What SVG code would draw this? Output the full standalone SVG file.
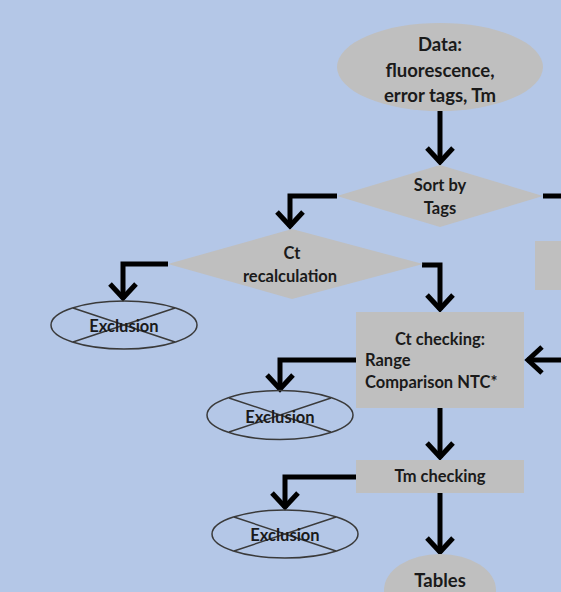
<svg xmlns="http://www.w3.org/2000/svg" width="561" height="592" viewBox="0 0 561 592">
<style>
.bg{fill:#b4c7e7}
.shape{fill:#bfbfbf;stroke:none}
.excl{fill:none;stroke:#3a3a3a;stroke-width:1.5}
.t{font-family:Lato,"Open Sans","Liberation Sans",sans-serif;font-weight:bold;fill:#1a1a1a;text-anchor:middle;font-size:16.5px}
.big{font-size:18.5px}
.tl{text-anchor:start}
.conn{fill:none;stroke:#000;stroke-width:5;stroke-linejoin:miter;stroke-linecap:butt}
</style>
<defs>
<marker id="chev" markerUnits="userSpaceOnUse" viewBox="-20 -20 40 40" markerWidth="40" markerHeight="40" refX="0" refY="0" orient="auto" overflow="visible">
<path d="M-15,-13 L-1,0 L-15,13" fill="none" stroke="#000" stroke-width="5" stroke-linejoin="miter"/>
</marker>
</defs>
<rect class="bg" x="0" y="0" width="561" height="592"/>

<g id="connectors">
<path class="conn" d="M440,111 L440,163" marker-end="url(#chev)"/>
<path class="conn" d="M543,196 L561,196"/>
<path class="conn" d="M337,196 L290,196 L290,227" marker-end="url(#chev)"/>
<path class="conn" d="M168,264 L123,264 L123,299" marker-end="url(#chev)"/>
<path class="conn" d="M422,265 L440,265 L440,310" marker-end="url(#chev)"/>
<path class="conn" d="M561,360 L527,360" marker-end="url(#chev)"/>
<path class="conn" d="M356,360 L280,360 L280,390" marker-end="url(#chev)"/>
<path class="conn" d="M440,408 L440,458" marker-end="url(#chev)"/>
<path class="conn" d="M356,477 L285,477 L285,508" marker-end="url(#chev)"/>
<path class="conn" d="M440,493 L440,553" marker-end="url(#chev)"/>
</g>

<g id="data">
<ellipse class="shape" cx="440" cy="67" rx="103" ry="44"/>
<text class="t big" x="440" y="51">Data:</text>
<text class="t big" x="440" y="77">fluorescence,</text>
<text class="t big" x="440" y="102">error tags, Tm</text>
</g>

<g id="sort">
<polygon class="shape" points="440,165 543,196 440,227 337,196"/>
<text class="t" x="440" y="191">Sort by</text>
<text class="t" x="440" y="214">Tags</text>
</g>

<g id="right-box">
<rect class="shape" x="535" y="241" width="30" height="49"/>
</g>

<g id="ct-recalc">
<polygon class="shape" points="292,229 423,264 292,299 168,264"/>
<text class="t" x="292" y="259">Ct</text>
<text class="t" x="290" y="282">recalculation</text>
</g>

<g id="exclusion1">
<ellipse class="excl" cx="124" cy="325" rx="73" ry="24"/>
<path class="excl" d="M73,308 L175,342 M73,342 L175,308"/>
<text class="t" x="124" y="332">Exclusion</text>
</g>

<g id="ct-check">
<rect class="shape" x="356" y="312" width="168" height="96"/>
<text class="t" x="440" y="345">Ct checking:</text>
<text class="t tl" x="365" y="366">Range</text>
<text class="t tl" x="365" y="388">Comparison NTC*</text>
</g>

<g id="exclusion2">
<ellipse class="excl" cx="280" cy="415" rx="73" ry="24.5"/>
<path class="excl" d="M229,398 L331,432 M229,432 L331,398"/>
<text class="t" x="280" y="423">Exclusion</text>
</g>

<g id="tm-check">
<rect class="shape" x="356" y="460" width="168" height="33"/>
<text class="t" x="440" y="482">Tm checking</text>
</g>

<g id="exclusion3">
<ellipse class="excl" cx="285" cy="534" rx="73" ry="24"/>
<path class="excl" d="M234,517 L336,551 M234,551 L336,517"/>
<text class="t" x="285" y="541">Exclusion</text>
</g>

<g id="tables">
<ellipse class="shape" cx="440" cy="590" rx="56" ry="36"/>
<text class="t big" x="440" y="587">Tables</text>
</g>
</svg>
